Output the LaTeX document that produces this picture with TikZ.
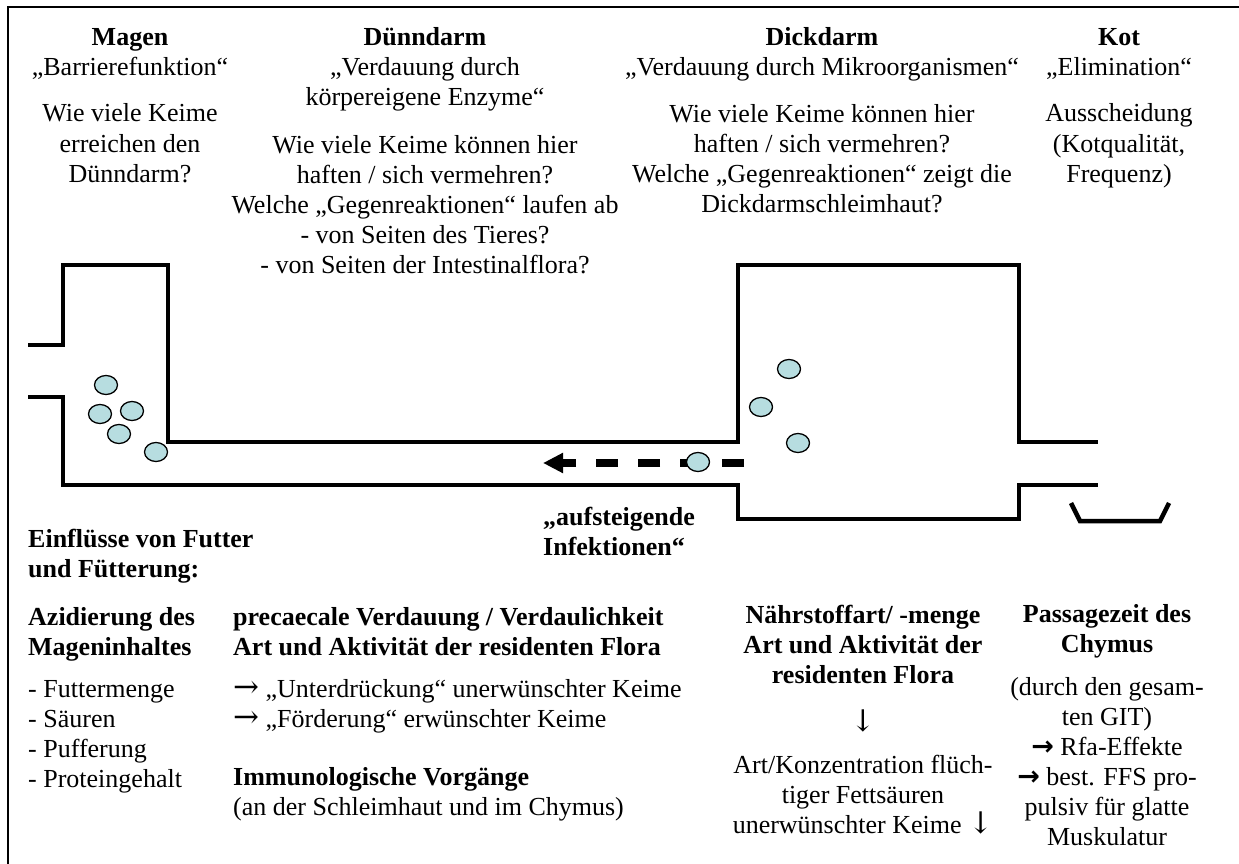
\documentclass[tikz,border=0pt]{standalone}
\usepackage{fontspec}
\setmainfont{Liberation Serif}
\newfontfamily\arrowfont{DejaVu Serif}
\newfontfamily\barrowfont{DejaVu Sans}
\usetikzlibrary{arrows.meta,shapes.geometric}
\definecolor{bactfill}{RGB}{183,221,224}
\newcommand{\rarr}{{\arrowfont\fontsize{31}{30}\selectfont →}}
\newcommand{\brarr}{{\barrowfont\bfseries\fontsize{27}{30}\selectfont →}}
\newcommand{\darr}{{\arrowfont\fontsize{30}{30}\selectfont ↓}}
\begin{document}
\begin{tikzpicture}[x=1pt,y=-1pt,
  txt/.style={inner sep=0pt, anchor=base, align=center, font=\fontsize{26}{30}\selectfont},
  txtl/.style={inner sep=0pt, anchor=base west, align=left, font=\fontsize{26}{30}\selectfont},
  hd/.style={txt, font=\fontsize{26}{30}\selectfont\bfseries},
  hdl/.style={txtl, font=\fontsize{26}{30}\selectfont\bfseries},
  wall/.style={line width=4.5pt, line join=miter},
  bact/.style={ellipse, draw=black, line width=1.3pt, fill=bactfill, minimum width=23pt, minimum height=19pt, inner sep=0pt},
  frameline/.style={line width=2pt}]
\useasboundingbox (0,0) rectangle (1239,864);
% frame (top and left edges)
\draw[frameline] (8,864) -- (8,7) -- (1239,7);

% ---- top texts (y = baseline of the last line) ----
\node[hd] (magenT) at (130,46) {Magen};
\node[txt] (magenS) at (130,76) {„Barrierefunktion“};
\node[txt] (magenQ) at (130,182) {Wie viele Keime\\erreichen den\\Dünndarm?};

\node[hd] (duennT) at (425,46) {Dünndarm};
\node[txt] (duennS) at (425,106) {„Verdauung durch\\körpereigene Enzyme“};
\node[txt] (duennQ) at (425,273) {Wie viele Keime können hier\\haften / sich vermehren?\\Welche „Gegenreaktionen“ laufen ab\\- von Seiten des Tieres?\\- von Seiten der Intestinalflora?};

\node[hd] (dickT) at (822,46) {Dickdarm};
\node[txt] (dickS) at (822,76) {„Verdauung durch Mikroorganismen“};
\node[txt] (dickQ) at (822,212) {Wie viele Keime können hier\\haften / sich vermehren?\\Welche „Gegenreaktionen“ zeigt die\\Dickdarmschleimhaut?};

\node[hd] (kotT) at (1119,46) {Kot};
\node[txt] (kotS) at (1119,76) {„Elimination“};
\node[txt] (kotQ) at (1119,182) {Ausscheidung\\(Kotqualität,\\Frequenz)};

% ---- tube ----
\draw[wall] (28,345) -- (63,345) -- (63,265) -- (168,265) -- (168,442) -- (738,442)
  -- (738,265) -- (1019,265) -- (1019,442) -- (1098,442);
\draw[wall] (28,397) -- (63,397) -- (63,485) -- (738,485) -- (738,519)
  -- (1019,519) -- (1019,485) -- (1098,485);
% bowl
\draw[wall] (1071,503) -- (1080,521) -- (1160,521) -- (1169,503);

% dashed arrow
\coordinate (arrS) at (744,463);
\coordinate (arrE) at (543,463);
\draw[line width=7.5pt, dash pattern=on 22pt off 20pt, -{Triangle[length=20pt,width=19pt]}] (arrS) -- (arrE);

% bacteria
\node[bact] (b1) at (106,385) {};
\node[bact] (b2) at (100,414) {};
\node[bact] (b3) at (132,411) {};
\node[bact] (b4) at (119,434) {};
\node[bact] (b5) at (156,452) {};
\node[bact] (b6) at (789,369) {};
\node[bact] (b7) at (761,407) {};
\node[bact] (b8) at (798,443) {};
\node[bact] (b9) at (698,462) {};

% ---- bottom texts (y = baseline of the last line) ----
\node[hdl] (aufst) at (543,555) {„aufsteigende\\Infektionen“};
\node[hdl] (einfl) at (28,577) {Einflüsse von Futter\\und Fütterung:};

\node[hdl] (azid) at (28,655) {Azidierung des\\Mageninhaltes};
\node[txtl] (azidL) at (28,787) {- Futtermenge\\- Säuren\\- Pufferung\\- Proteingehalt};

\node[hdl] (prec) at (233,655) {precaecale Verdauung / Verdaulichkeit\\Art und Aktivität der residenten Flora};
\node[txtl] (precL) at (233,727) {\rarr\ „Unterdrückung“ unerwünschter Keime\\\rarr\ „Förderung“ erwünschter Keime};
\node[txtl] (immun) at (233,815) {\textbf{Immunologische Vorgänge}\\(an der Schleimhaut und im Chymus)};

\node[hd] (naehr) at (863,683) {Nährstoffart/ -menge\\Art und Aktivität der\\residenten Flora};
\node[txt] (naehrA) at (863,731) {\darr};
\node[txt] (naehrL) at (863,833) {Art/Konzentration flüch-\\tiger Fettsäuren\\unerwünschter Keime \darr};

\node[hd] (pass) at (1107,652) {Passagezeit des\\Chymus};
\node[txt] (passL) at (1107,845) {(durch den gesam-\\ten GIT)\\\brarr\ Rfa-Effekte\\\brarr\ best. FFS pro-\\pulsiv für glatte\\Muskulatur};
\end{tikzpicture}
\end{document}
